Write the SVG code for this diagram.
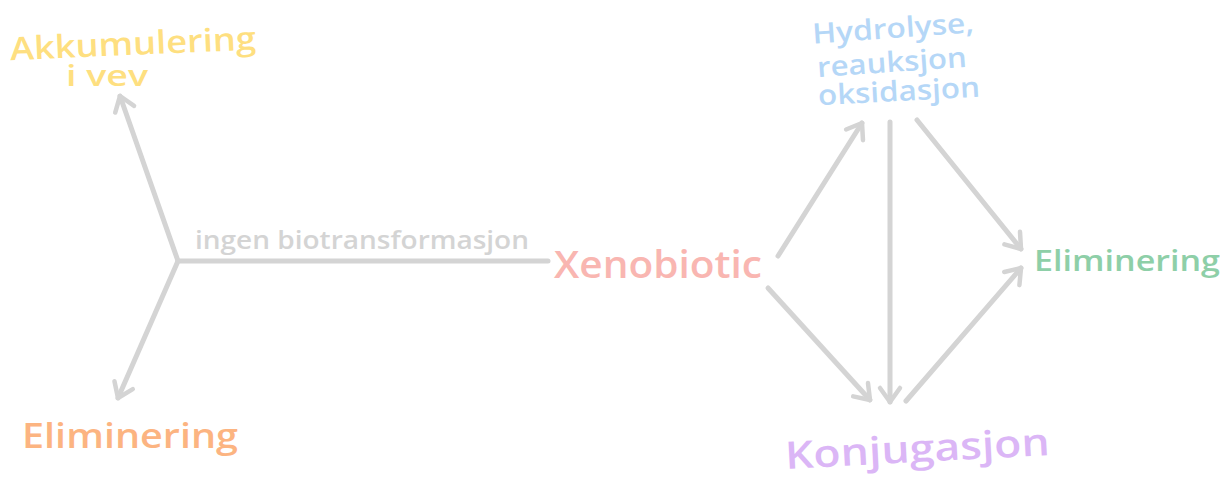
<svg xmlns="http://www.w3.org/2000/svg" width="1230" height="482" viewBox="0 0 1230 482">
  <defs>
    <marker id="chev" viewBox="-20 -14 26 28" markerWidth="26" markerHeight="28" refX="0" refY="0" orient="auto" markerUnits="userSpaceOnUse">
      <path d="M -14 -10 L 0 0 L -14 10" fill="none" stroke="#d4d4d4" stroke-width="4.5" stroke-linecap="round" stroke-linejoin="round"/>
    </marker>
    <style>
      .edge { fill: none; stroke: #d4d4d4; stroke-width: 5; stroke-linecap: round; }
      .arrow { marker-end: url(#chev); }
      text { font-family: "Open Sans", "Noto Sans", sans-serif; font-weight: 600; }
    </style>
  </defs>
  <rect width="1230" height="482" fill="#ffffff"/>

  <!-- connectors -->
  <g id="connectors">
    <path class="edge" d="M 548 261 L 178 261"/>
    <path class="edge arrow" d="M 178 261 L 120 96"/>
    <path class="edge arrow" d="M 178 261 L 118 398"/>
    <path class="edge arrow" d="M 778 256 L 862 123"/>
    <path class="edge arrow" d="M 768 288 L 870 400"/>
    <path class="edge arrow" d="M 890 122 L 890 402"/>
    <path class="edge arrow" d="M 917 120 L 1021 249"/>
    <path class="edge arrow" d="M 906 401 L 1021 268"/>
  </g>

  <!-- nodes -->
  <g id="node-akkumulering" fill="#fedf80">
    <text x="10" y="55" font-size="32" textLength="246" lengthAdjust="spacingAndGlyphs" transform="rotate(-2.5 130 45)">Akkumulering</text>
    <text x="66" y="86" font-size="28" textLength="82" lengthAdjust="spacingAndGlyphs">i vev</text>
  </g>

  <g id="node-hydrolyse" fill="#b5d7f7">
    <text x="812" y="38" font-size="28" textLength="162" lengthAdjust="spacingAndGlyphs" transform="rotate(-4 893 28)">Hydrolyse,</text>
    <text x="817" y="72" font-size="28" textLength="150" lengthAdjust="spacingAndGlyphs" transform="rotate(-4 892 64)">reauksjon</text>
    <text x="818" y="101" font-size="28" textLength="162" lengthAdjust="spacingAndGlyphs" transform="rotate(-3 899 93)">oksidasjon</text>
  </g>

  <g id="label-ingen">
    <text x="195" y="249" font-size="25" font-weight="400" fill="#d4d4d4" textLength="334" lengthAdjust="spacingAndGlyphs">ingen biotransformasjon</text>
  </g>

  <g id="node-xenobiotic">
    <text x="554" y="278" font-size="37" fill="#f9b6b1" textLength="208" lengthAdjust="spacingAndGlyphs">Xenobiotic</text>
  </g>

  <g id="node-eliminering-left">
    <text x="22" y="448" font-size="34" fill="#fcb481" textLength="216" lengthAdjust="spacingAndGlyphs">Eliminering</text>
  </g>

  <g id="node-konjugasjon">
    <text x="785" y="462" font-size="38" fill="#dbb6f6" textLength="265" lengthAdjust="spacingAndGlyphs" transform="rotate(-3 917 452)">Konjugasjon</text>
  </g>

  <g id="node-eliminering-right">
    <text x="1034" y="271" font-size="28" fill="#8ecfa8" textLength="186" lengthAdjust="spacingAndGlyphs">Eliminering</text>
  </g>
</svg>
